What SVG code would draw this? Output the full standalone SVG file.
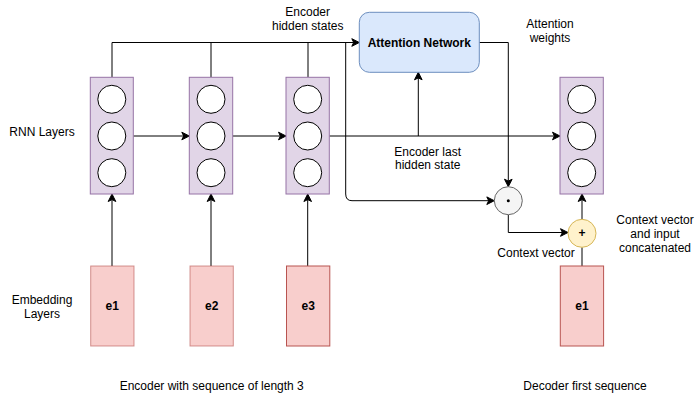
<svg xmlns="http://www.w3.org/2000/svg" width="698" height="404" viewBox="0 0 698 404">
<style>
text{font-family:"Liberation Sans",Arial,sans-serif;font-size:12px;fill:#000;text-anchor:middle;dominant-baseline:central}
.b{font-weight:bold}
.rnn{fill:#e1d5e7;stroke:#9673a6;stroke-width:1}
.cell{fill:#fff;stroke:#000;stroke-width:1}
.emb{fill:#f8cecc;stroke:#b85450;stroke-width:1}
.ln{fill:none;stroke:#000;stroke-width:1}
.ah{fill:#000;stroke:#000;stroke-width:1;stroke-linejoin:miter}
</style>
<defs>
<path id="ah" class="ah" d="M0,0 L-7.5,-3.8 L-5.6,0 L-7.5,3.8 z"/>
</defs>
<rect width="698" height="404" fill="#fff"/>
<g id="connectors">
<path class="ln" d="M112,77 V42.5 H354"/>
<path class="ln" d="M211,77 V42.5"/>
<path class="ln" d="M308,77 V42.5"/>
<path class="ln" d="M345.7,42.5 V194 Q345.7,200.7 352,200.7 H489"/>
<path class="ln" d="M479.3,42.5 H508.3 V181.5"/>
<path class="ln" d="M133.3,136 H184"/>
<path class="ln" d="M232.7,136 H281"/>
<path class="ln" d="M329.3,136 H555"/>
<path class="ln" d="M418.3,136 V77.5"/>
<path class="ln" d="M508.3,214.7 V232.5 H563"/>
<path class="ln" d="M582,219.3 V199"/>
<path class="ln" d="M582,266 V247.3"/>
<path class="ln" d="M112,266 V199"/>
<path class="ln" d="M211,266 V199"/>
<path class="ln" d="M307.7,266 V199"/>
<use href="#ah" transform="translate(359.3,42.5)"/>
<use href="#ah" transform="translate(494.3,200.7)"/>
<use href="#ah" transform="translate(508.3,186.7) rotate(90)"/>
<use href="#ah" transform="translate(189.3,136)"/>
<use href="#ah" transform="translate(286,136)"/>
<use href="#ah" transform="translate(560,136)"/>
<use href="#ah" transform="translate(418.3,72.3) rotate(-90)"/>
<use href="#ah" transform="translate(568,232.5)"/>
<use href="#ah" transform="translate(582,194) rotate(-90)"/>
<use href="#ah" transform="translate(112,194) rotate(-90)"/>
<use href="#ah" transform="translate(211,194) rotate(-90)"/>
<use href="#ah" transform="translate(307.7,194) rotate(-90)"/>
</g>
<g id="rnn1">
<rect class="rnn" x="90.3" y="77.3" width="43" height="116.7"/>
<circle class="cell" cx="111.8" cy="99.3" r="14"/>
<circle class="cell" cx="111.8" cy="136" r="14"/>
<circle class="cell" cx="111.8" cy="172.7" r="14"/>
</g>
<g id="rnn2">
<rect class="rnn" x="189.3" y="77.3" width="43.4" height="116.7"/>
<circle class="cell" cx="211" cy="99.3" r="14"/>
<circle class="cell" cx="211" cy="136" r="14"/>
<circle class="cell" cx="211" cy="172.7" r="14"/>
</g>
<g id="rnn3">
<rect class="rnn" x="286" y="77.3" width="43.3" height="116.7"/>
<circle class="cell" cx="307.7" cy="99.3" r="14"/>
<circle class="cell" cx="307.7" cy="136" r="14"/>
<circle class="cell" cx="307.7" cy="172.7" r="14"/>
</g>
<g id="rnn-dec">
<rect class="rnn" x="560" y="77.3" width="43.3" height="116.7"/>
<circle class="cell" cx="581.7" cy="99.3" r="14"/>
<circle class="cell" cx="581.7" cy="136" r="14"/>
<circle class="cell" cx="581.7" cy="172.7" r="14"/>
</g>
<g id="attention">
<rect x="359.3" y="12.3" width="120" height="60" rx="10" fill="#dae8fc" stroke="#6c8ebf"/>
<text class="b" x="419.3" y="42.5">Attention Network</text>
</g>
<g id="dot">
<circle cx="508.3" cy="200.7" r="14" fill="#f5f5f5" stroke="#666666"/>
<circle cx="508.3" cy="200.7" r="1.5" fill="#000"/>
</g>
<g id="plus">
<circle cx="582" cy="233.3" r="14" fill="#fff2cc" stroke="#d6b656"/>
<text class="b" x="582" y="233.3">+</text>
</g>
<g id="e1">
<rect class="emb" x="90.7" y="266" width="43.3" height="80" stroke-opacity="0.6"/>
<text class="b" x="112.3" y="306">e1</text>
</g>
<g id="e2">
<rect class="emb" x="190" y="266" width="43.3" height="80" stroke-opacity="0.6"/>
<text class="b" x="211.7" y="306">e2</text>
</g>
<g id="e3">
<rect class="emb" x="286.5" y="266" width="43.3" height="80"/>
<text class="b" x="308.2" y="306">e3</text>
</g>
<g id="e1-dec">
<rect class="emb" x="560.3" y="266" width="43.3" height="80"/>
<text class="b" x="582" y="306">e1</text>
</g>
<g id="labels">
<text x="42" y="132">RNN Layers</text>
<text x="42" y="300">Embedding</text>
<text x="42" y="313.5">Layers</text>
<text x="307.7" y="11.7">Encoder</text>
<text x="307.7" y="25.5">hidden states</text>
<text x="550" y="24">Attention</text>
<text x="550" y="37.5">weights</text>
<text x="427.7" y="151.7">Encoder last</text>
<text x="427.7" y="165.3">hidden state</text>
<text x="536" y="252.5">Context vector</text>
<text x="655" y="220">Context vector</text>
<text x="655" y="233.7">and input</text>
<text x="655" y="247.5">concatenated</text>
<text x="211.7" y="385.7">Encoder with sequence of length 3</text>
<text x="585" y="385.7">Decoder first sequence</text>
</g>
</svg>
